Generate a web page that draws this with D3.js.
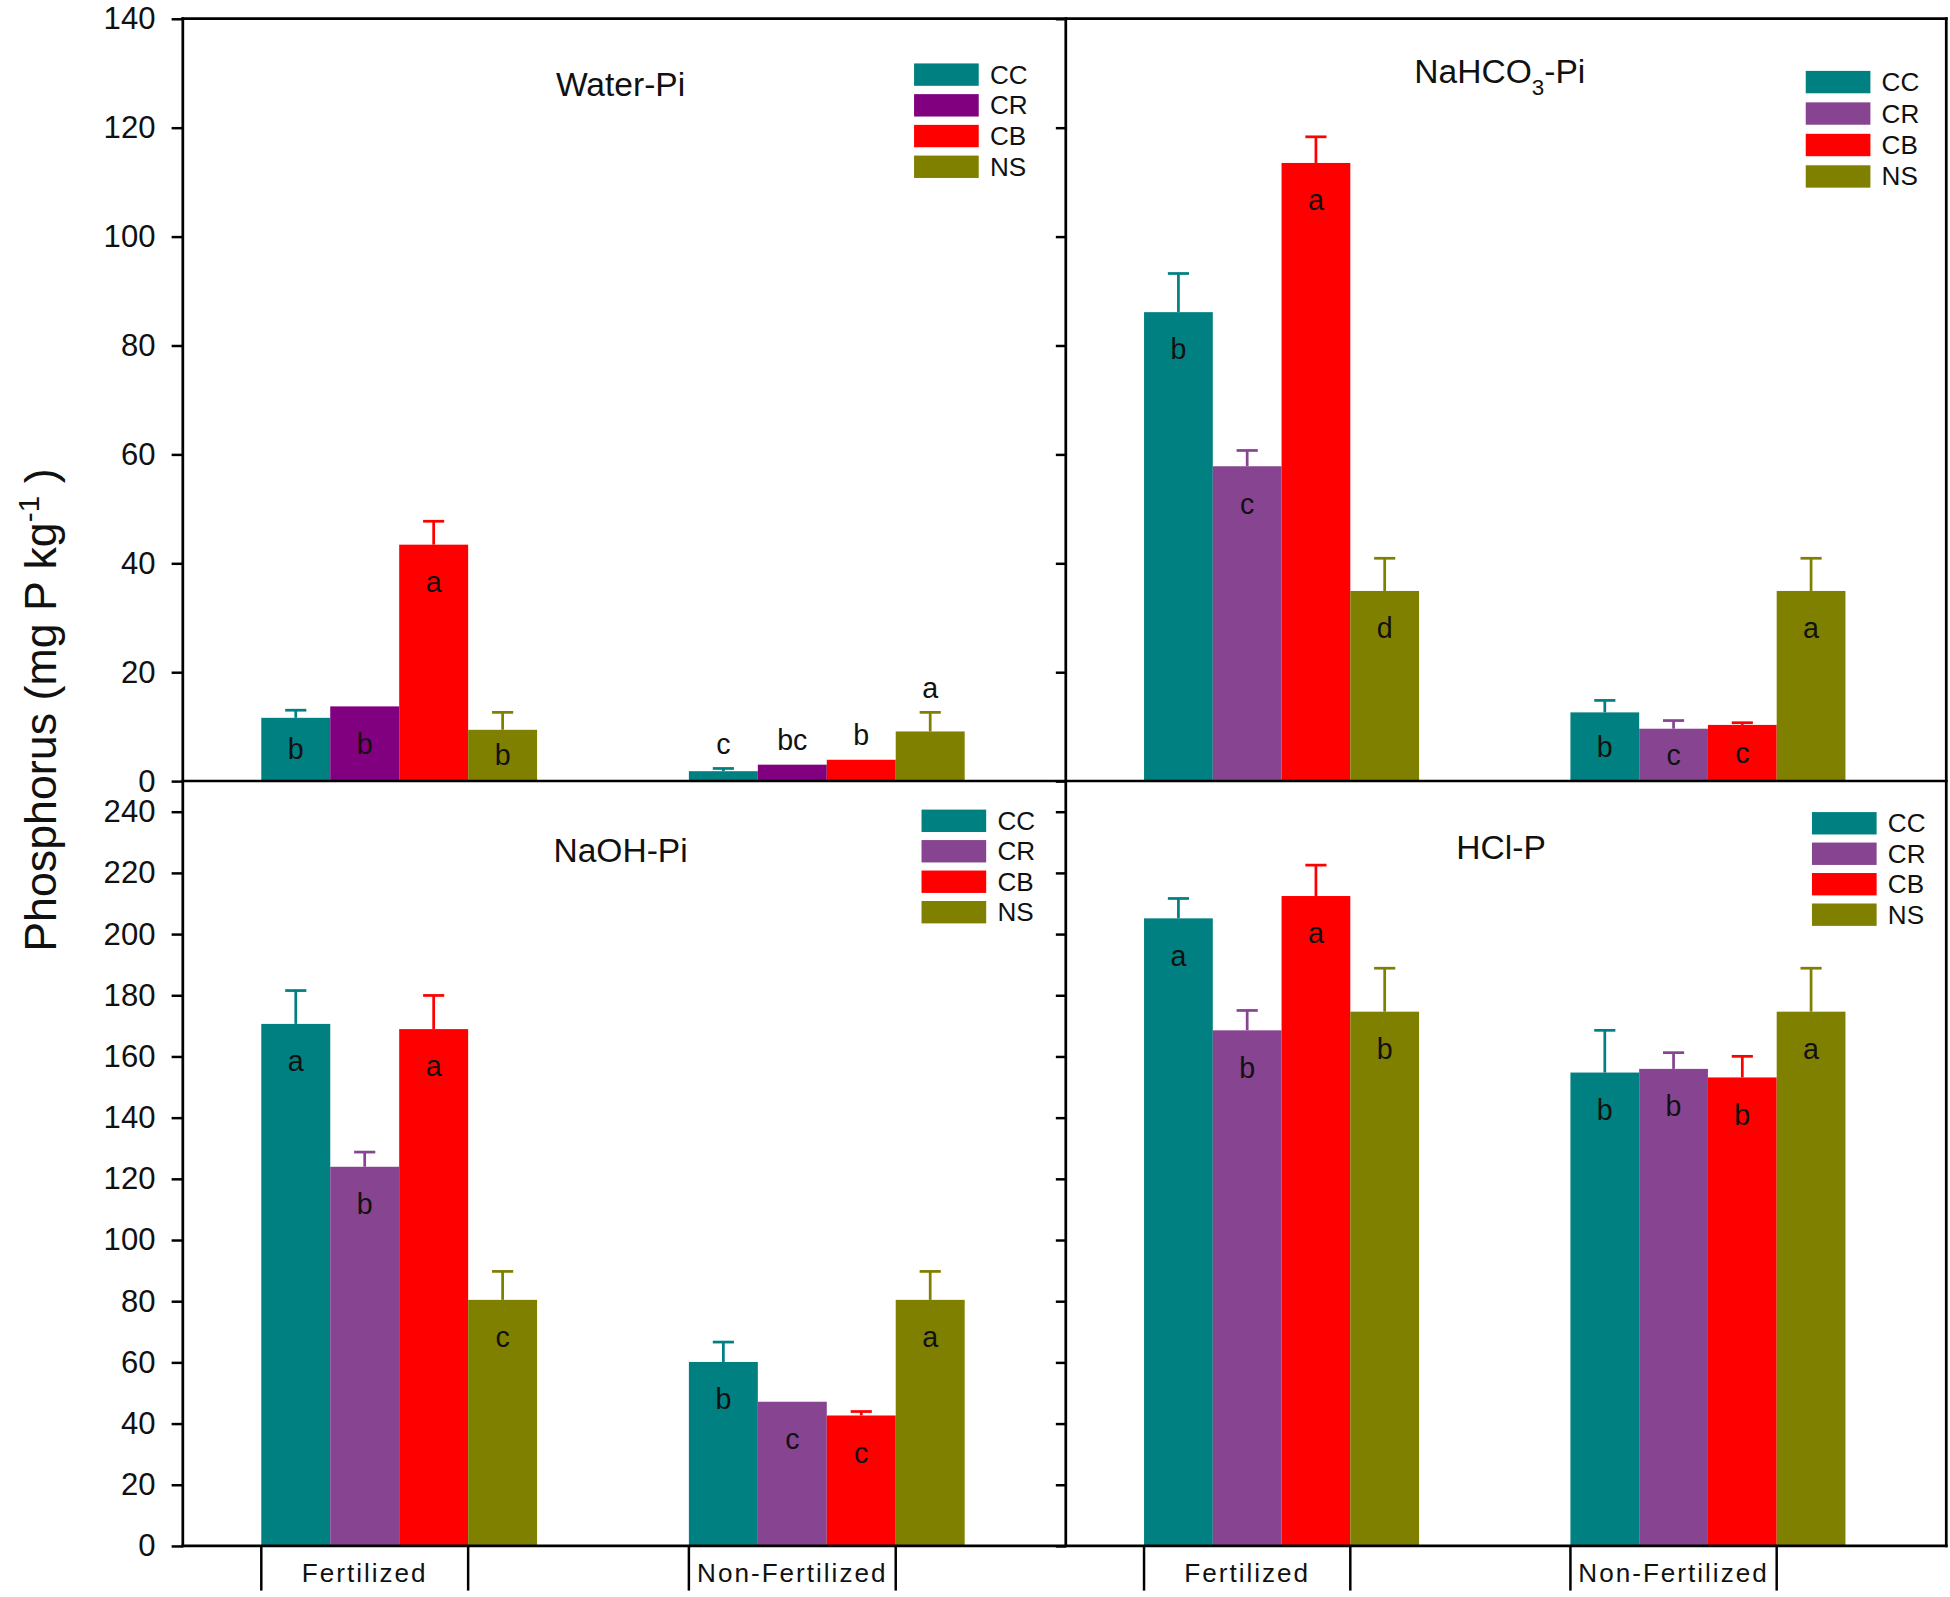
<!DOCTYPE html>
<html>
<head>
<meta charset="utf-8">
<script src="https://cdn.jsdelivr.net/npm/d3@7"></script>
<style>
  body { margin: 0; background: #fff; }
  svg { display: block; font-family: "Liberation Sans", Arial, sans-serif; }
</style>
</head>
<body>
<div id="chart"></div>
<script>
"use strict"

// Values (mg P kg-1), one row per group: [CC, CR, CB, NS]
const groups = ["Fertilized", "Non-Fertilized"];
const series = ["CC", "CR", "CB", "NS"];
const seriesColors = ["#008080", "#874490", "#ff0000", "#808000"];
const waterColors = ["#008080", "#800080", "#ff0000", "#808000"];

const waterPi = [[11.6, 13.7, 43.4, 9.4], [1.8, 3.0, 3.9, 9.1]];
const waterPiErr = [[1.4, 0, 4.3, 3.2], [0.5, 0, 0, 3.5]];
const waterPiLetters = [["b", "b", "a", "b"], ["c", "bc", "b", "a"]];

const bicarbPi = [[86.1, 57.8, 113.5, 34.9], [12.6, 9.6, 10.3, 34.9]];
const bicarbPiErr = [[7.1, 2.9, 4.8, 6.0], [2.2, 1.5, 0.4, 6.0]];
const bicarbPiLetters = [["b", "c", "a", "d"], ["b", "c", "c", "a"]];

const naohPi = [[170.6, 123.9, 168.9, 80.4], [60.1, 47.1, 42.6, 80.4]];
const naohPiErr = [[10.9, 4.8, 11.0, 9.3], [6.5, 0, 1.3, 9.3]];
const naohPiLetters = [["a", "b", "a", "c"], ["b", "c", "c", "a"]];

const hclP = [[205.1, 168.5, 212.4, 174.6], [154.7, 155.9, 153.1, 174.6]];
const hclPErr = [[6.5, 6.5, 10.1, 14.2], [13.8, 5.3, 6.9, 14.2]];
const hclPLetters = [["a", "b", "a", "b"], ["b", "b", "b", "a"]];

const topTicks = d3.range(0, 141, 20);
const bottomTicks = d3.range(0, 241, 20);

const panels = [
  {title: "Water-Pi", values: waterPi, err: waterPiErr, letters: waterPiLetters, colors: waterColors, row: 0, col: 0},
  {title: "NaHCO3-Pi", values: bicarbPi, err: bicarbPiErr, letters: bicarbPiLetters, colors: seriesColors, row: 0, col: 1},
  {title: "NaOH-Pi", values: naohPi, err: naohPiErr, letters: naohPiLetters, colors: seriesColors, row: 1, col: 0},
  {title: "HCl-P", values: hclP, err: hclPErr, letters: hclPLetters, colors: seriesColors, row: 1, col: 1}
];

// Layout (drawn in a 1568-wide viewBox, scaled up to the window)
const outW = 1950, outH = 1597;
const k = outW / 1568;
const vbH = outH / k;

const frame = {left: 147, mid: 857, right: 1565, top: 15, midY: 628, bottom: 1243};
const rows = [
  {domain: [0, 140], ticks: topTicks, y0: frame.top, y1: frame.midY},
  {domain: [0, 250], ticks: bottomTicks, y0: frame.midY, y1: frame.bottom}
];
const cols = [{x0: frame.left, x1: frame.mid}, {x0: frame.mid, x1: frame.right}];

// title and legend offsets from each panel's top-left corner
const panelLayout = [
  {title: [352, 62], legend: [588, 36], pitch: 24.7},
  {title: [349, 52], legend: [595, 42], pitch: 25.3},
  {title: [352, 65], legend: [594, 23], pitch: 24.5},
  {title: [350, 63], legend: [600, 25], pitch: 24.5}
];

const svg = d3.select("#chart").append("svg")
  .attr("width", outW)
  .attr("height", outH)
  .attr("viewBox", `0 0 1568 ${vbH}`);

svg.append("rect").attr("width", 1568).attr("height", vbH).attr("fill", "#fff");

// Y axes: labelled on the far left, unlabelled ticks on the middle divider
rows.forEach(r => {
  const y = d3.scaleLinear().domain(r.domain).range([r.y1, r.y0]);

  const leftAxis = svg.append("g")
    .attr("transform", translate(frame.left, 0))
    .call(d3.axisLeft(y).tickValues(r.ticks).tickSize(9).tickSizeOuter(0).tickPadding(13));
  leftAxis.select(".domain").remove();
  leftAxis.selectAll("line").attr("stroke", "#000").attr("stroke-width", 2);
  leftAxis.selectAll("text")
    .attr("font-size", 25)
    .attr("font-family", "Liberation Sans, Arial, sans-serif")
    .attr("fill", "#111");

  const midAxis = svg.append("g")
    .attr("transform", translate(frame.mid, 0))
    .call(d3.axisLeft(y).tickValues(r.ticks).tickSize(8).tickSizeOuter(0).tickFormat(""));
  midAxis.select(".domain").remove();
  midAxis.selectAll("line").attr("stroke", "#000").attr("stroke-width", 2);
});

panels.forEach((p, i) => {
  const r = rows[p.row];
  const c = cols[p.col];
  const lay = panelLayout[i];

  const xGroup = d3.scaleBand()
    .domain(groups)
    .range([c.x0, c.x1])
    .paddingInner(0.355)
    .paddingOuter(0.21)
    .align(0.437);
  const xSeries = d3.scaleBand().domain(series).range([0, xGroup.bandwidth()]);
  const y = d3.scaleLinear().domain(r.domain).range([r.y1, r.y0]);
  const domainMax = r.domain[1];

  const g = svg.append("g").attr("class", "panel");

  const bars = [];
  groups.forEach((grp, gi) => {
    const groupMax = d3.max(p.values[gi]);
    series.forEach((s, si) => {
      bars.push({
        group: grp, series: s,
        value: p.values[gi][si], err: p.err[gi][si], letter: p.letters[gi][si],
        color: p.colors[si],
        above: groupMax < 0.1 * domainMax
      });
    });
  });

  g.selectAll("rect.bar")
    .data(bars)
    .enter().append("rect")
      .attr("class", "bar")
      .attr("x", d => xGroup(d.group) + xSeries(d.series))
      .attr("y", d => y(d.value))
      .attr("width", xSeries.bandwidth())
      .attr("height", d => y(0) - y(d.value))
      .attr("fill", d => d.color);

  // error bars (upper whisker only)
  const errBars = g.selectAll("g.err")
    .data(bars.filter(d => d.err > 0))
    .enter().append("g")
      .attr("class", "err")
      .attr("stroke", d => d.color)
      .attr("stroke-width", 2.2);
  const cx = d => xGroup(d.group) + xSeries(d.series) + xSeries.bandwidth() / 2;
  errBars.append("line")
    .attr("x1", cx).attr("x2", cx)
    .attr("y1", d => y(d.value)).attr("y2", d => y(d.value + d.err));
  errBars.append("line")
    .attr("x1", d => cx(d) - 8.5).attr("x2", d => cx(d) + 8.5)
    .attr("y1", d => y(d.value + d.err)).attr("y2", d => y(d.value + d.err));

  // significance letters
  g.selectAll("text.letter")
    .data(bars)
    .enter().append("text")
      .attr("class", "letter")
      .attr("x", cx)
      .attr("y", d => {
        if (d.above) return y(d.value + d.err) - 20;
        const h = y(0) - y(d.value);
        return y(d.value) + Math.min(30, h / 2);
      })
      .attr("dominant-baseline", "central")
      .attr("text-anchor", "middle")
      .attr("font-size", 23)
      .attr("fill", "#111")
      .text(d => d.letter);

  // panel title, digits as subscript
  const title = g.append("text")
    .attr("x", c.x0 + lay.title[0])
    .attr("y", r.y0 + lay.title[1])
    .attr("text-anchor", "middle")
    .attr("font-size", 27)
    .attr("fill", "#111");
  p.title.split(/(\d)/).filter(t => t !== "").forEach(part => {
    if (/\d/.test(part)) {
      title.append("tspan").attr("font-size", 18).attr("dy", 9).text(part);
    } else {
      const t = title.append("tspan").text(part);
      if (title.selectAll("tspan").size() > 1) t.attr("dy", -9);
    }
  });

  // legend
  const legend = g.append("g")
    .attr("transform", translate(c.x0 + lay.legend[0], r.y0 + lay.legend[1]));
  const items = legend.selectAll("g")
    .data(series)
    .enter().append("g")
      .attr("transform", (d, j) => translate(0, j * lay.pitch));
  items.append("rect")
    .attr("width", 52)
    .attr("height", 18)
    .attr("fill", (d, j) => p.colors[j]);
  items.append("text")
    .attr("x", 61)
    .attr("y", 9)
    .attr("dominant-baseline", "central")
    .attr("font-size", 21)
    .attr("fill", "#111")
    .text(d => d);

  // category brackets under the bottom row
  if (p.row === 1) {
    groups.forEach(grp => {
      const a = xGroup(grp) + xSeries("CC");
      const b = xGroup(grp) + xSeries("NS");
      [a, b].forEach(xv => {
        g.append("line")
          .attr("x1", xv).attr("x2", xv)
          .attr("y1", frame.bottom).attr("y2", frame.bottom + 36)
          .attr("stroke", "#000")
          .attr("stroke-width", 2);
      });
      g.append("text")
        .attr("x", (a + b) / 2)
        .attr("y", frame.bottom + 29)
        .attr("text-anchor", "middle")
        .attr("font-size", 21)
        .attr("letter-spacing", 1.6)
        .attr("fill", "#111")
        .text(grp);
    });
  }
});

// Frame lines
const frameLines = [
  [frame.left, frame.top, frame.right, frame.top],
  [frame.left, frame.midY, frame.right, frame.midY],
  [frame.left, frame.bottom, frame.right, frame.bottom],
  [frame.left, frame.top, frame.left, frame.bottom],
  [frame.mid, frame.top, frame.mid, frame.bottom],
  [frame.right, frame.top, frame.right, frame.bottom]
];
svg.append("g").selectAll("line")
  .data(frameLines)
  .enter().append("line")
    .attr("x1", d => d[0]).attr("y1", d => d[1])
    .attr("x2", d => d[2]).attr("y2", d => d[3])
    .attr("stroke", "#000")
    .attr("stroke-width", 2.2)
    .attr("stroke-linecap", "square");

// Y axis title
const yTitle = svg.append("text")
  .attr("transform", `translate(45, 571) rotate(-90)`)
  .attr("text-anchor", "middle")
  .attr("font-size", 36)
  .attr("fill", "#111");
yTitle.append("tspan").text("Phosphorus (mg P kg");
yTitle.append("tspan").attr("font-size", 24).attr("dy", -14).text("-1");
yTitle.append("tspan").attr("dy", 14).text(" )");

function translate(x, y) {
  return `translate(${x}, ${y})`;
}
</script>
</body>
</html>
